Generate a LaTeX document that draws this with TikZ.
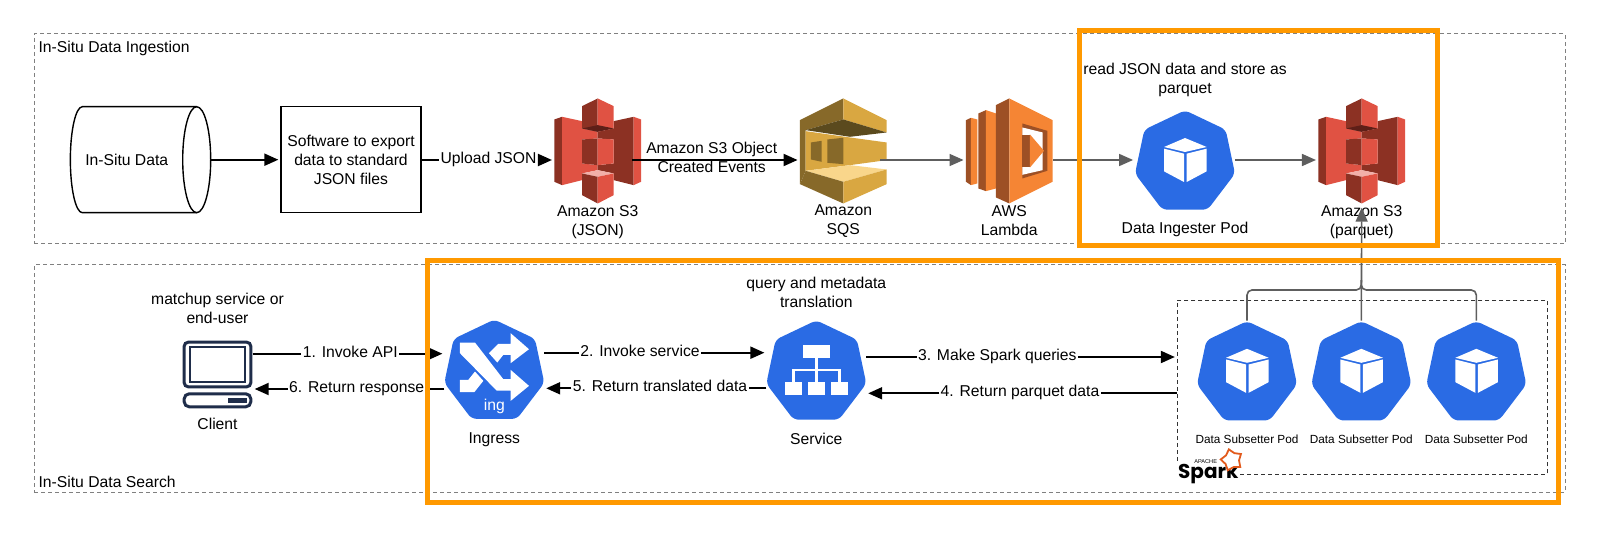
\documentclass[tikz,border=0pt]{standalone}
\usepackage{fontspec}
\setmainfont{Liberation Sans}
\newfontfamily\sparkfont{Poppins}
\usepackage{xcolor}
\usetikzlibrary{positioning}
\usetikzlibrary{arrows.meta}
\usetikzlibrary{shapes.geometric}
\definecolor{s3light}{HTML}{E05243}
\definecolor{s3dark}{HTML}{8C3123}
\definecolor{s3shade}{HTML}{5E1F18}
\definecolor{s3pale}{HTML}{F2B0A9}
\definecolor{sqslight}{HTML}{D9A741}
\definecolor{sqsdark}{HTML}{876929}
\definecolor{sqsshade}{HTML}{5B4A1E}
\definecolor{sqspale}{HTML}{F9D68B}
\definecolor{lamlight}{HTML}{F58534}
\definecolor{lamdark}{HTML}{9D5025}
\definecolor{kubeblue}{HTML}{2A6BE4}
\definecolor{clientnavy}{HTML}{1F2D4A}
\definecolor{hiorange}{HTML}{FF9900}
\definecolor{sparkorange}{HTML}{E25A1C}
\definecolor{flowgrey}{HTML}{5E5E5E}
\definecolor{framegrey}{HTML}{808080}
\newcommand{\kubehept}{\fill[kubeblue, rounded corners=2.5pt] (0,-149) -- (122,-91) -- (150,41) -- (68,149) -- (-68,149) -- (-150,41) -- (-122,-91) -- cycle;}
\tikzset{
        drumicon/.pic={
                \draw[black, line width=0.7pt] (56.35,-53) -- (-58,-53) .. controls (-64.6,-53) and (-70,-29.3) .. (-70,0) .. controls (-70,29.3) and (-64.6,53) .. (-58,53) -- (56.35,53);
                \draw[black, line width=0.7pt] (56.35,0) ellipse [x radius=14, y radius=53];
        },
        s3icon/.pic={
                \fill[s3dark] (-130,-94) -- (-107,-102) -- (-107,103) -- (-130,93) -- cycle;
                \fill[s3light] (-107,-102) -- (-47,-89) -- (-47,-67) -- (0,-57) -- (0,-37) -- (-47,-34) -- (-47,38) -- (0,43) -- (0,58) -- (-47,68) -- (-47,88) -- (-107,103) -- cycle;
                \fill[s3dark] (0,-57) -- (48,-67) -- (48,-89) -- (108,-102) -- (108,103) -- (48,88) -- (48,68) -- (0,58) -- (0,43) -- (48,38) -- (48,-34) -- (0,-37) -- cycle;
                \fill[s3light] (108,-102) -- (130,-94) -- (130,93) -- (108,103) -- cycle;
                \fill[s3dark] (-47,-134) -- (0,-157) -- (0,-57) -- (-47,-67) -- cycle;
                \fill[s3light] (0,-157) -- (48,-134) -- (48,-67) -- (0,-57) -- cycle;
                \fill[s3shade] (-47,-67) -- (0,-77) -- (48,-67) -- (0,-57) -- cycle;
                \fill[s3dark] (-47,-34) -- (0,-37) -- (0,43) -- (-47,38) -- cycle;
                \fill[s3light] (0,-37) -- (48,-34) -- (48,38) -- (0,43) -- cycle;
                \fill[s3pale] (-47,68) -- (0,58) -- (48,68) -- (0,78) -- cycle;
                \fill[s3dark] (-47,68) -- (0,78) -- (0,158) -- (-47,133) -- cycle;
                \fill[s3light] (0,78) -- (48,68) -- (48,133) -- (0,158) -- cycle;
        },
        sqsicon/.pic={
                \fill[sqsdark] (-130,-92) -- (0,-157) -- (0,-94) -- (-113,-62) -- (-113,60) -- (-130,100) -- cycle;
                \fill[sqslight] (0,-157) -- (130,-92) -- (130,-55) -- (0,-94) -- cycle;
                \fill[sqsshade] (-113,-62) -- (0,-94) -- (130,-55) -- (20,-42) -- cycle;
                \fill[sqslight] (-113,-59) -- (20,-40) -- (130,-25) -- (130,28) -- (20,43) -- (-113,60) -- cycle;
                \fill[sqsdark] (-97,-25) -- (-65,-30) -- (-65,33) -- (-97,26) -- cycle;
                \fill[sqsdark] (-48,-34) -- (0,-39) -- (0,40) -- (-48,36) -- cycle;
                \fill[sqspale] (-113,60) -- (20,43) -- (130,56) -- (0,93) -- cycle;
                \fill[sqsdark] (-130,100) -- (-113,60) -- (0,93) -- (0,158) -- cycle;
                \fill[sqslight] (0,93) -- (130,56) -- (130,100) -- (0,158) -- cycle;
        },
        lambdaicon/.pic={
                \fill[lamdark] (-130,-92) -- (-115,-99) -- (-115,103) -- (-130,93) -- cycle;
                \fill[lamlight] (-115,-99) -- (-96,-94) -- (-96,98) -- (-115,103) -- cycle;
                \fill[lamdark] (-93,-112) -- (-70,-122) -- (-70,121) -- (-93,113) -- cycle;
                \fill[lamlight] (-70,-122) -- (-40,-112) -- (-40,113) -- (-70,121) -- cycle;
                \fill[lamdark] (-40,-137) -- (0,-157) -- (0,158) -- (-40,140) -- cycle;
                \fill[lamlight] (0,-157) -- (130,-92) -- (130,93) -- (0,158) -- cycle;
                \fill[lamdark] (39,-82) -- (114,-60) -- (114,60) -- (39,83) -- cycle;
                \fill[white] (39,-70) -- (100,-55) -- (100,58) -- (39,72) -- cycle;
                \fill[lamdark] (39,-47) -- (62,-47) -- (62,50) -- (39,50) -- cycle;
                \fill[lamlight] (62,-49) -- (104,0) -- (62,50) -- cycle;
        },
        podicon/.pic={
                \kubehept
                \fill[white] (-63,-39) -- (0,-66) -- (65,-39) -- (0,-24) -- cycle;
                \fill[white] (-63,-34) -- (-3,-19) -- (-3,66) -- (-63,34) -- cycle;
                \fill[white] (5,-19) -- (65,-34) -- (65,34) -- (5,66) -- cycle;
        },
        ingressicon/.pic={
                \kubehept
                \fill[white] (-103,-80) -- (-58,-80) -- (27,30) -- (49,30) -- (49,2) -- (104,50) -- (49,95) -- (49,64) -- (7,64) -- (-103,-48) -- cycle;
                \fill[white] (49,-108) -- (104,-60) -- (49,-18) -- (49,-43) -- (27,-43) -- (9,-20) -- (-16,-48) -- (12,-76) -- (49,-76) -- cycle;
                \fill[white] (-103,32) -- (-78,32) -- (-58,7) -- (-33,35) -- (-60,69) -- (-103,69) -- cycle;
        },
        serviceicon/.pic={
                \kubehept
                \fill[white] (-41,-74) rectangle (41,-36);
                \fill[white] (-95,36) rectangle (-43,74);
                \fill[white] (-26,36) rectangle (26,74);
                \fill[white] (44,36) rectangle (96,74);
                \draw[white, line width=1.3pt] (0,-36) -- (0,36);
                \draw[white, line width=1.3pt] (-69,36) -- (-69,0) -- (69,0) -- (69,36);
        },
        clienticon/.pic={
                \draw[clientnavy, line width=1.5pt, rounded corners=2pt] (-33.3,-32.3) rectangle (33.3,12.3);
                \draw[clientnavy, line width=1.2pt] (-27.5,-27.5) rectangle (27.5,7.5);
                \draw[clientnavy, line width=1.5pt, rounded corners=2.5pt] (-33.3,19.3) rectangle (33.3,32.3);
                \fill[clientnavy] (10.2,23.2) rectangle (29.2,28.8);
        }
}
\begin{document}
\begin{tikzpicture}[
        x=0.5pt, y=-0.5pt,
        every node/.style = {font=\fontsize{7.85}{9.5}\selectfont, inner sep=0pt, align=center},
        dashframe/.style = {draw=framegrey, line width=0.5pt, dash pattern=on 2pt off 1.5pt},
        hiframe/.style = {draw=hiorange, line width=2.5pt},
        awsbox/.style = {minimum width=43.35pt, minimum height=52.5pt},
        kubebox/.style = {minimum width=49.5pt, minimum height=49.8pt},
        edgelbl/.style = {text height=6pt, text depth=2.4pt, inner xsep=0.5pt},
        smalllbl/.style = {font=\fontsize{5.9}{7}\selectfont},
        flow/.style = {black, line width=1pt, -{Triangle[length=7pt,width=6pt]}, shorten >=1pt},
        plainflow/.style = {black, line width=1pt},
        greyflow/.style = {flowgrey, line width=0.8pt, -{Triangle[length=7pt,width=6pt]}, shorten >=1pt},
        greyline/.style = {flowgrey, line width=0.8pt, rounded corners=2.5pt}
        ]
        \useasboundingbox (0,0) rectangle (1600,545);
        \node[dashframe, minimum width=765.5pt, minimum height=105pt] (ingestframe) at (799.5,139) {};
        \node[dashframe, minimum width=765.5pt, minimum height=113.5pt] (searchframe) at (799.5,378.5) {};
        \node[anchor=west] (ingesttitle) at (38.2,48.2) {In-Situ Data Ingestion};
        \node[anchor=west] (searchtitle) at (38.2,482.2) {In-Situ Data Search};

        \node[minimum width=70.35pt, minimum height=53pt] (insitu) at (140.35,159.7) {};
        \pic at (insitu) {drumicon};
        \node (insitulbl) at (126.7,159.7) {In-Situ Data};
        \node[draw, line width=0.65pt, minimum width=70pt, minimum height=53pt] (software) at (351,159.7) {Software to export\\data to standard\\JSON files};
        \node[awsbox] (s3json) at (597.7,150.8) {};
        \node[awsbox] (sqs) at (843.3,150.8) {};
        \node[awsbox] (lambda) at (1009.3,150.8) {};
        \node[kubebox] (ingester) at (1185,160) {};
        \node[awsbox] (s3parquet) at (1361.7,150.8) {};
        \pic[scale=1/3] at (s3json) {s3icon};
        \pic[scale=1/3] at (sqs) {sqsicon};
        \pic[scale=1/3] at (lambda) {lambdaicon};
        \pic[scale=1/3] at (ingester) {podicon};
        \pic[scale=1/3] at (s3parquet) {s3icon};
        \node[below=0.5pt of s3json] (s3jsonlbl) {Amazon S3\\(JSON)};
        \node[below=0.5pt of sqs] (sqslbl) {Amazon\\SQS};
        \node[below=0.5pt of lambda] (lambdalbl) {AWS\\Lambda};
        \node[below=6pt of ingester] (ingesterlbl) {Data Ingester Pod};
        \node[below=0.5pt of s3parquet] (s3parquetlbl) {Amazon S3\\(parquet)};
        \node[above=6.5pt of ingester] (ingesternote) {read JSON data and store as\\parquet};
        \node (s3event) at (711.7,157.5) {Amazon S3 Object\\Created Events};
        \node[edgelbl] (uploadlbl) at (488.5,160) {Upload JSON};

        \draw[flow] (insitu) -- (software);
        \draw[plainflow] (software.east |- uploadlbl) -- (uploadlbl);
        \draw[flow] (uploadlbl) -- (s3json.west |- uploadlbl);
        \draw[flow] ([xshift=-4.5pt,yshift=-4.6pt]s3json.east) -- ([yshift=-4.6pt]sqs.west);
        \draw[greyflow] ([xshift=-3.3pt,yshift=-4.6pt]sqs.east) -- ([yshift=-4.6pt]lambda.west);
        \draw[greyflow] ([yshift=-4.6pt]lambda.east) -- (ingester.west);
        \draw[greyflow] (ingester.east) -- ([yshift=-4.6pt]s3parquet.west);

        \node[minimum width=34.8pt, minimum height=33.8pt] (client) at (217.5,374.5) {};
        \pic at (client) {clienticon};
        \node[above=8pt of client] (clientnote) {matchup service or\\end-user};
        \node[below=4.5pt of client] (clientlbl) {Client};
        \node[kubebox] (ingress) at (494.3,369.2) {};
        \pic[scale=1/3] at (ingress) {ingressicon};
        \node[text=white] (ingtext) at (494.3,406) {ing};
        \node[below=6.5pt of ingress] (ingresslbl) {Ingress};
        \node[kubebox] (service) at (816.3,370) {};
        \pic[scale=1/3] at (service) {serviceicon};
        \node[below=6.5pt of service] (servicelbl) {Service};
        \node[above=5.7pt of service] (servicenote) {query and metadata\\translation};

        \node[draw=black!80, line width=0.5pt, dash pattern=on 2pt off 1.5pt, minimum width=184.85pt, minimum height=87.35pt] (sparkbox) at (1362.2,387.4) {};
        \node[kubebox] (sub1) at (1247,370.8) {};
        \node[kubebox] (sub2) at (1361.3,370.8) {};
        \node[kubebox] (sub3) at (1476.3,370.8) {};
        \pic[scale=1/3] at (sub1) {podicon};
        \pic[scale=1/3] at (sub2) {podicon};
        \pic[scale=1/3] at (sub3) {podicon};
        \node[smalllbl, below=7pt of sub1] (sub1lbl) {Data Subsetter Pod};
        \node[smalllbl, below=7pt of sub2] (sub2lbl) {Data Subsetter Pod};
        \node[smalllbl, below=7pt of sub3] (sub3lbl) {Data Subsetter Pod};
        \node[anchor=base, fill=white, inner sep=0.5pt, font=\sparkfont\bfseries\fontsize{10}{10}\selectfont] (sparktext) at (1208.3,478) {Spark};
        \node[font=\fontsize{2.8}{3}\selectfont] (apachetext) at (1205.7,462) {APACHE};
        \node[star, star points=5, draw=sparkorange, fill=white, line width=0.9pt, minimum size=11pt, rotate=15] (sparkstar) at (1231.7,460) {};

        \node[edgelbl] (invokeapi) at (350.3,353.7) {1. Invoke API};
        \node[edgelbl] (invokesvc) at (640,352.7) {2. Invoke service};
        \node[edgelbl] (makequery) at (997.3,357) {3. Make Spark queries};
        \node[edgelbl] (returnpq) at (1020,393.3) {4. Return parquet data};
        \node[edgelbl] (returntr) at (660,388.3) {5. Return translated data};
        \node[edgelbl] (returnresp) at (356.7,389) {6. Return response};
        \draw[plainflow] (client.east |- invokeapi) -- (invokeapi);
        \draw[flow] (invokeapi) -- (ingress.west |- invokeapi);
        \draw[plainflow] (ingress.east |- invokesvc) -- (invokesvc);
        \draw[flow] (invokesvc) -- (service.west |- invokesvc);
        \draw[plainflow] (service.east |- makequery) -- (makequery);
        \draw[flow] (makequery) -- (sparkbox.west |- makequery);
        \draw[plainflow] (sparkbox.west |- returnpq) -- (returnpq);
        \draw[flow] (returnpq) -- (service.east |- returnpq);
        \draw[plainflow] (service.west |- returntr) -- (returntr);
        \draw[flow] (returntr) -- (ingress.east |- returntr);
        \draw[plainflow] (ingress.west |- returnresp) -- (returnresp);
        \draw[flow] (returnresp) -- (client.east |- returnresp);

        \coordinate (joint) at (1361.3,290);
        \coordinate (jointup) at (1361.3,280);
        \draw[greyline] (sub1.north) |- (joint) -- (jointup);
        \draw[greyline] (sub3.north) |- (joint) -- (jointup);
        \draw[greyflow, shorten >=2pt] (sub2.north) -- (s3parquet.south);

        \node[hiframe, minimum width=179pt, minimum height=107.5pt] (hiingest) at (1258,138.5) {};
        \node[hiframe, minimum width=565.25pt, minimum height=120.75pt] (hisearch) at (992.75,381.75) {};
\end{tikzpicture}
\end{document}
